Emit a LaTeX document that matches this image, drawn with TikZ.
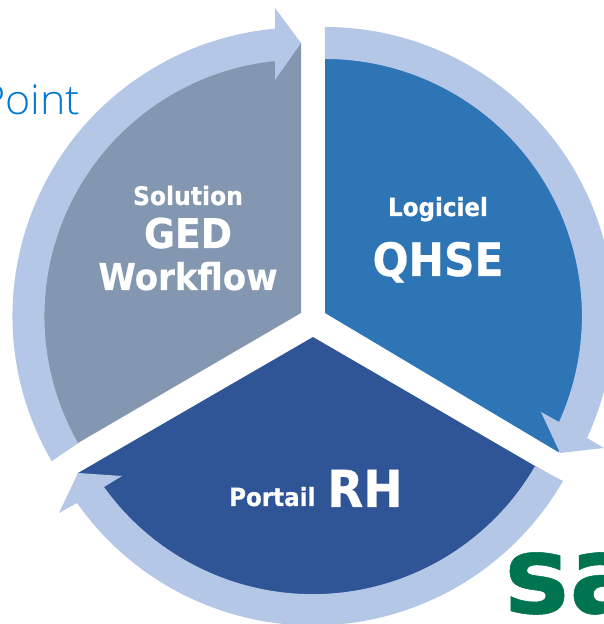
\documentclass[tikz,border=0pt]{standalone}
\usepackage{fontspec}
\setmainfont{DejaVu Sans}[FakeStretch=0.92,BoldFeatures={FakeBold=0.5}]
\newfontfamily\pointfont{Open Sans Light}
\definecolor{ringblue}{HTML}{B4C7E7}
\definecolor{wedgeblue}{HTML}{2E75B6}
\definecolor{wedgedark}{HTML}{2F5597}
\definecolor{wedgegrey}{HTML}{8497B0}
\definecolor{pointblue}{HTML}{0078D4}
\definecolor{sagegreen}{HTML}{00734F}
\newcommand{\bsz}[1]{\bfseries\fontsize{#1}{#1}\selectfont}
\tikzset{
  wordlabel/.style={text=white,align=center,inner sep=0pt,anchor=base},
  ring/.style={fill=ringblue,draw=none},
}
\begin{document}
\begin{tikzpicture}[x=1pt,y=1pt]
\useasboundingbox (0,0) rectangle (604,624);
\clip (0,0) rectangle (604,624);
% y-up: Y = 624 - py
% wedges
\fill[wedgeblue] (325,311) -- (325,583) arc[start angle=90,end angle=-30.8,radius=272] -- cycle;
\fill[wedgedark] (313,287) -- ++(-30.16:272) arc[start angle=-30.16,end angle=-149.94,radius=272] -- cycle;
\fill[wedgegrey] (301,311) -- (301,581) arc[start angle=90,end angle=210.24,radius=270] -- cycle;
% rings
\fill[ring] (325,308) ++(90:289) arc[start angle=90,end angle=-24.97,radius=289] -- (604,176) -- (560,171) -- (541,212) -- (559,202) arc[start angle=-24.37,end angle=90,radius=257] -- cycle;
\fill[ring] (313,287) ++(-29.94:288.5) arc[start angle=-29.94,end angle=-144.88,radius=288.5] -- (59,111) -- (78,151) -- (122,148) -- (104,137) arc[start angle=-144.33,end angle=-30.16,radius=257] -- cycle;
\fill[ring] (301,308) ++(210.2:288.5) arc[start angle=210.2,end angle=95.17,radius=288.5] -- (275,616) -- (301,581) -- (275,544) -- (275,563) arc[start angle=95.8,end angle=209.7,radius=256.5] -- cycle;
% labels
\node[wordlabel,font=\bsz{25.5}] (sol) at (188,419) {Solution};
\node[wordlabel,font=\bsz{41}] (ged) at (188,376) {GED};
\node[wordlabel,font=\bsz{37}] (wf) at (188,334) {Workflow};
\node[wordlabel,font=\bsz{25}] (log) at (438,408) {Logiciel};
\node[wordlabel,font=\bsz{46}] (qhse) at (438,348) {QHSE};
\node[wordlabel,font=\bsz{25},anchor=base west] (por) at (229,118) {Portail};
\node[wordlabel,font=\bsz{51},anchor=base west] (rh) at (327,117) {RH};
\node[text=pointblue,font=\pointfont\fontsize{41}{41}\selectfont,anchor=base west,inner sep=0pt,xscale=1.05] (pt) at (-20,509) {Point};
% logo
\node[text=sagegreen,font=\bsz{95},anchor=base west,inner sep=0pt,xscale=1.25,yscale=1.14] (sa) at (504,11) {sa};
\end{tikzpicture}
\end{document}
